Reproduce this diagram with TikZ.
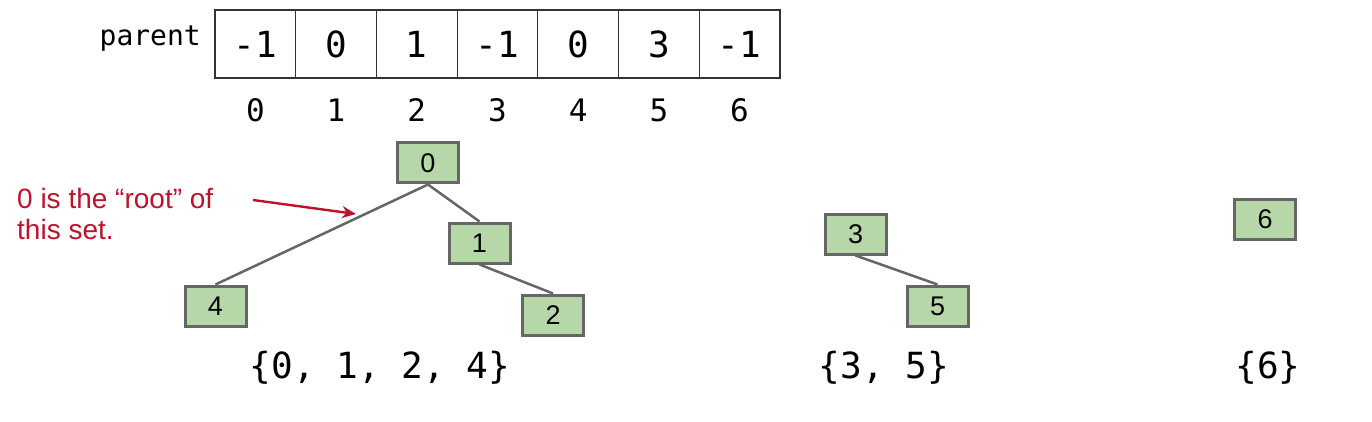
\documentclass[tikz,border=0pt]{standalone}
\usepackage{fontspec}
\setmainfont{Liberation Sans}
\newfontfamily\monof{DejaVu Sans Mono}
\usetikzlibrary{arrows.meta}
\definecolor{nodegreen}{HTML}{B6D7A8}
\definecolor{edgegray}{HTML}{666666}
\definecolor{notered}{HTML}{C0112B}
\tikzset{
  tnode/.style={draw=edgegray, line width=3pt, fill=nodegreen, minimum width=61pt, minimum height=40pt, inner sep=0pt, font=\fontsize{27}{29}\selectfont},
  tedge/.style={draw=edgegray, line width=2.5pt},
  cell/.style={draw=black!80, line width=1.2pt, minimum width=80.7pt, minimum height=68pt, inner sep=0pt, font=\monof\fontsize{36}{38}\selectfont},
  idx/.style={font=\monof\fontsize{31}{33}\selectfont, inner sep=0pt},
  setlbl/.style={font=\monof\fontsize{36}{38}\selectfont, inner sep=0pt},
}
\begin{document}
\begin{tikzpicture}[x=1pt,y=-1pt]
\useasboundingbox (0,0) rectangle (1372,422);
% array
\node[font=\monof\fontsize{28}{30}\selectfont, anchor=east, inner sep=0pt] (plabel) at (201,39) {parent};
\foreach \v [count=\i from 0] in {-1,0,1,-1,0,3,-1} {
  \node[cell] (c\i) at ({255.35+80.7*\i},44) {\v};
  \node[idx] (i\i) at ({255.35+80.7*\i},110) {\i};
}
% tree 1
\node[tnode] (n0) at (428,163) {0};
\node[tnode] (n1) at (479.5,243) {1};
\node[tnode] (n2) at (553,315) {2};
\node[tnode] (n4) at (215.5,306) {4};
\draw[tedge] (n0.south) -- (n4.north);
\draw[tedge] (n0.south) -- (n1.north);
\draw[tedge] (n1.south) -- (n2.north);
% tree 2
\node[tnode] (n3) at (855.5,234) {3};
\node[tnode] (n5) at (937.5,306) {5};
\draw[tedge] (n3.south) -- (n5.north);
% tree 3
\node[tnode] (n6) at (1265,219) {6};
% annotation
\node[text=notered, anchor=base west, align=left, inner sep=0pt, font=\fontsize{28}{31}\selectfont] (note) at (17,239) {0 is the “root” of\\this set.};
\coordinate (ast) at (253,200);
\coordinate (aen) at (356,214);
\draw[notered, line width=2.4pt, -{Stealth[length=14pt,width=12pt]}] (ast) -- (aen);
% sets
\node[setlbl] (s1) at (380,368) {\{0, 1, 2, 4\}};
\node[setlbl] (s2) at (884,368) {\{3, 5\}};
\node[setlbl] (s3) at (1268,368) {\{6\}};
\end{tikzpicture}
\end{document}
